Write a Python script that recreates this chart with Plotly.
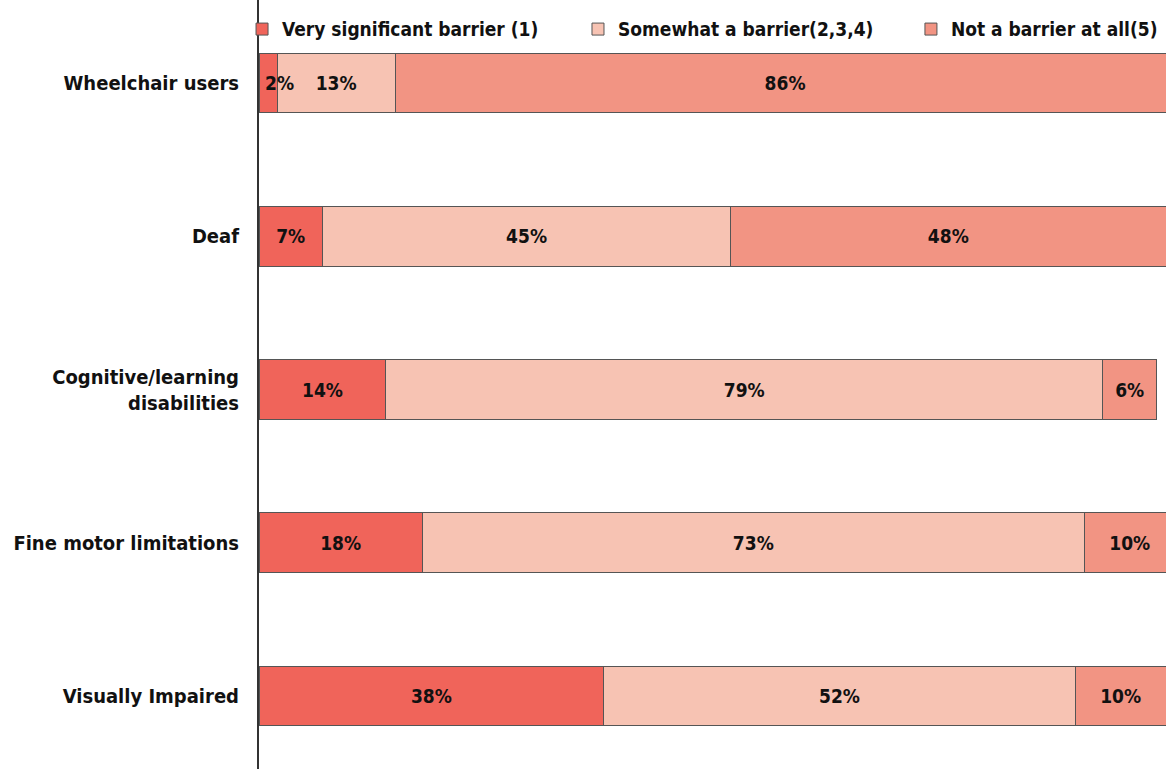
import plotly.graph_objects as go

# Survey: how much of a barrier is each issue, by disability group (percent)
groups = [
    "Wheelchair users",
    "Deaf",
    "Cognitive/learning<br>disabilities",
    "Fine motor limitations",
    "Visually Impaired",
]
very_significant = [2, 7, 14, 18, 38]
somewhat = [13, 45, 79, 73, 52]
not_barrier = [86, 48, 6, 10, 10]

series = [
    ("Very significant barrier (1)", very_significant, "#F0645A", "legend"),
    ("Somewhat a barrier(2,3,4)", somewhat, "#F7C3B3", "legend2"),
    ("Not a barrier at all(5)", not_barrier, "#F29483", "legend3"),
]

FONT = "DejaVu Sans Condensed, Liberation Sans Narrow, sans-serif"
LABEL_FONT = dict(family=FONT, size=19, color="#111111", weight="bold")
TOO_NARROW = 4  # segments below this share get their label written from the bar start

fig = go.Figure()
for name, vals, color, leg in series:
    fig.add_trace(go.Bar(
        y=groups,
        x=vals,
        orientation="h",
        name=name,
        legend=leg,
        showlegend=True,
        marker=dict(color=color, line=dict(color="#555555", width=1)),
        text=[f"{v}%" for v in vals],
        textposition=["none" if v < TOO_NARROW else "inside" for v in vals],
        insidetextanchor="middle",
        textangle=0,
        textfont=LABEL_FONT,
    ))

# labels for the thin first segments, left-aligned at the bar start
for g, v in zip(groups, very_significant):
    if v < TOO_NARROW:
        fig.add_annotation(
            x=0, y=g, xref="x", yref="y",
            text=f"{v}%", showarrow=False,
            xanchor="left", xshift=4,
            font=LABEL_FONT,
        )

legend_style = dict(
    orientation="h",
    yanchor="middle",
    xanchor="left",
    y=0.962,
    bgcolor="rgba(0,0,0,0)",
    font=dict(family=FONT, size=19, color="#111111", weight="bold"),
    itemwidth=30,
    visible=True,
)

fig.update_layout(
    width=1166,
    height=769,
    barmode="stack",
    bargap=0.61,
    showlegend=True,
    plot_bgcolor="white",
    paper_bgcolor="white",
    margin=dict(l=259, r=0, t=0, b=0),
    uniformtext=dict(mode="show", minsize=19),
    legend=dict(legend_style, x=-0.0187),
    legend2=dict(legend_style, x=0.3517),
    legend3=dict(legend_style, x=0.7188),
    xaxis=dict(
        range=[0, 100],
        visible=False,
        showgrid=False,
        zeroline=False,
    ),
    yaxis=dict(
        range=[4.476, -0.542],
        showgrid=False,
        zeroline=False,
        showline=True,
        linecolor="#333333",
        linewidth=2,
        ticks="",
        ticklabelstandoff=14,
        tickfont=dict(family=FONT, size=20, color="#111111", weight="bold"),
    ),
)

fig.write_html("out.html")
